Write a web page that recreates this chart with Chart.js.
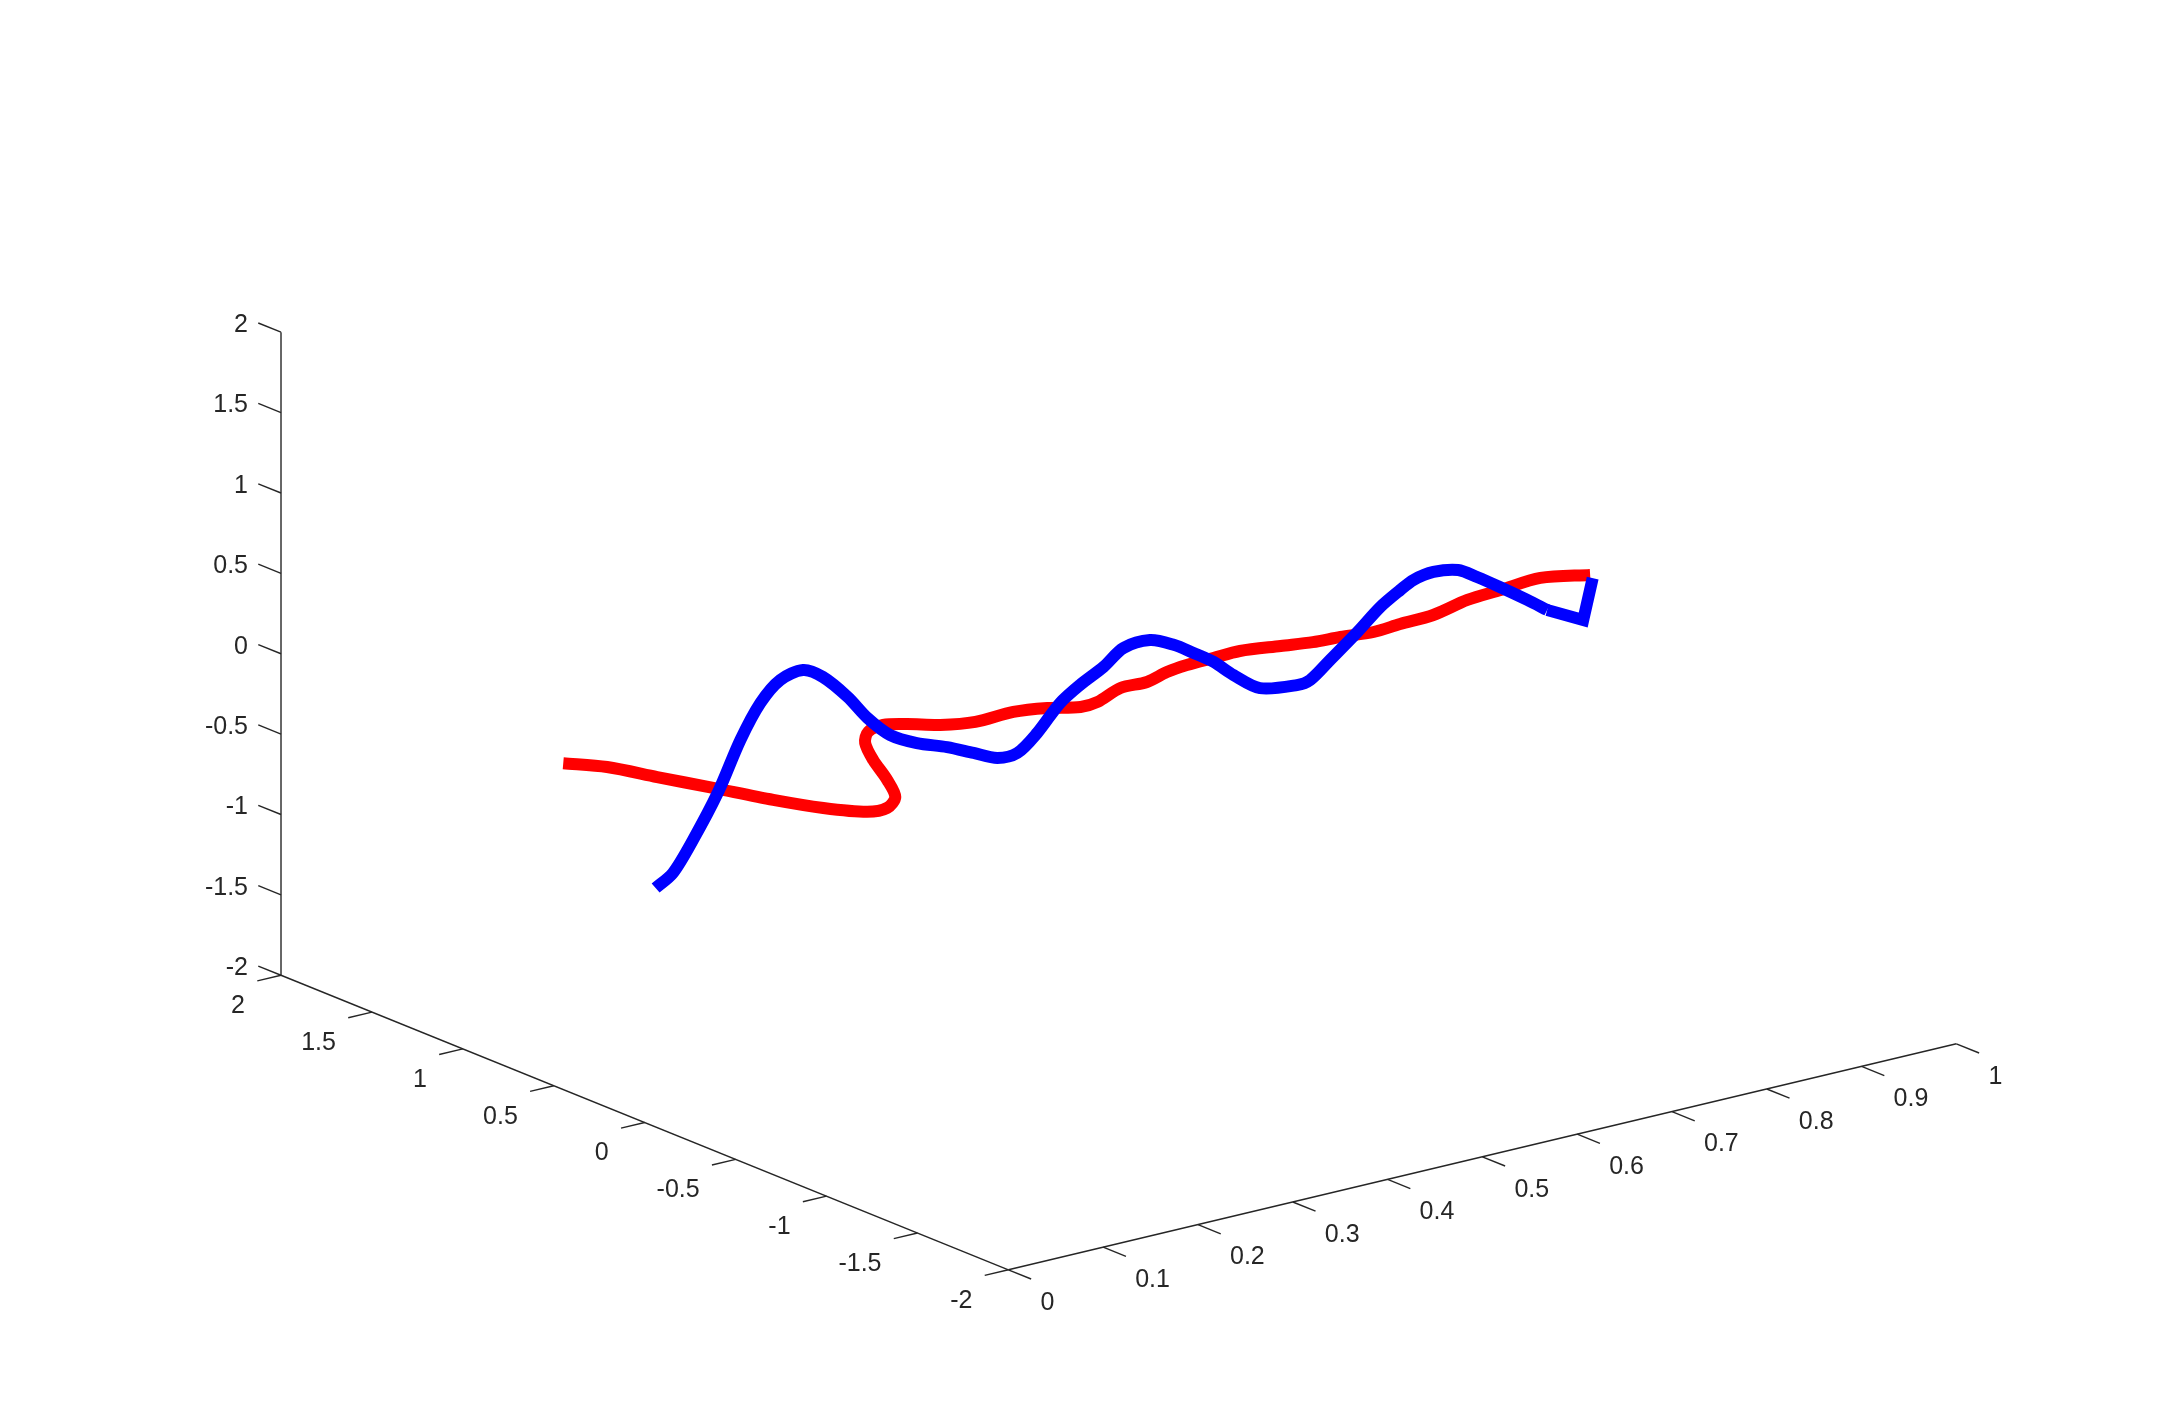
<!DOCTYPE html>
<html>
<head>
<meta charset="utf-8">
<script src="https://cdn.jsdelivr.net/npm/chart.js@4.4.1/dist/chart.umd.min.js"></script>
<style>
	html, body { margin: 0; padding: 0; background: #fff; }
	#wrap { width: 2160px; height: 1427px; }
</style>
</head>
<body>
<div id="wrap"><canvas id="plot3" width="2160" height="1427"></canvas></div>
<script>
const W = 2160;
const H = 1427;

// axis limits and ticks
const xLim = [0, 1];
const yLim = [-2, 2];
const zLim = [-2, 2];
const xTicks = [0, 0.1, 0.2, 0.3, 0.4, 0.5, 0.6, 0.7, 0.8, 0.9, 1];
const yTicks = [-2, -1.5, -1, -0.5, 0, 0.5, 1, 1.5, 2];
const zTicks = [-2, -1.5, -1, -0.5, 0, 0.5, 1, 1.5, 2];

// blue curve
const blueX = [0, 0.022, 0.047, 0.077, 0.101, 0.122, 0.143, 0.167, 0.188, 0.214,
	0.235, 0.259, 0.287, 0.319, 0.347, 0.372, 0.393, 0.414, 0.438, 0.459,
	0.484, 0.505, 0.533, 0.558, 0.579, 0.600, 0.621, 0.649, 0.688, 0.702,
	0.723, 0.752, 0.776, 0.797, 0.811, 0.832, 0.858, 0.878, 0.902, 0.931,
	0.952, 0.990, 1.0];
const blueY = [-0.06, -0.04, -0.02, 0, 0, 0, 0, 0, 0, 0,
	0, 0, 0, 0, 0, 0, 0, 0, 0, 0,
	0, 0, 0, 0, 0, 0, 0, 0, 0, 0,
	0, 0, 0, 0, 0, 0, 0, 0, 0, 0,
	0, 0, 0];
const blueZ = [-0.514, -0.461, -0.300, -0.058, 0.238, 0.438, 0.552, 0.580, 0.507, 0.347,
	0.186, 0.046, -0.043, -0.113, -0.189, -0.255, -0.254, -0.159, -0.007, 0.076,
	0.154, 0.242, 0.252, 0.187, 0.107, 0.022, -0.089, -0.210, -0.246, -0.234,
	-0.139, -0.005, 0.116, 0.192, 0.235, 0.255, 0.231, 0.159, 0.063, -0.058,
	-0.150, -0.266, -0.019];

// red curve
const redX = [0, 0.025, 0.055, 0.09, 0.125, 0.155, 0.18, 0.19, 0.197, 0.203,
	0.21, 0.217, 0.224, 0.24, 0.273, 0.308, 0.345, 0.385, 0.421, 0.456,
	0.474, 0.498, 0.526, 0.547, 0.568, 0.596, 0.624, 0.667, 0.701, 0.730,
	0.765, 0.793, 0.828, 0.864, 0.899, 0.941, 1.0];
const redY = [0.448, 0.337, 0.218, 0.093, -0.055, -0.174, -0.285, -0.343, -0.351, -0.275,
	-0.162, -0.081, -0.061, -0.06, -0.02, -0.02, -0.02, -0.02, -0.02, -0.02,
	-0.02, -0.02, -0.02, -0.02, -0.02, -0.02, -0.02, -0.02, -0.02, -0.02,
	-0.02, -0.02, -0.02, -0.02, -0.02, -0.02, 0.014];
const redZ = [0.03, 0.022, -0.028, -0.088, -0.144, -0.182, -0.19, -0.153, -0.091, -0.028,
	0.034, 0.093, 0.143, 0.163, 0.104, 0.049, 0.016, 0.022, -0.004, -0.047,
	-0.041, 0.012, 0.010, 0.042, 0.056, 0.061, 0.065, 0.036, 0.012, 0.003,
	-0.015, -0.005, 0.002, 0.045, 0.058, 0.074, -0.006];

// view (MATLAB default 3-D view) and how the plot box sits on the canvas
const AZ = -37.5 * Math.PI / 180;
const EL = 30 * Math.PI / 180;
const SCALE_U = 1194.9;
const SCALE_V = 742.5;
const CENTER = [1118.7, 688];
const AXIS_COLOR = "#262626";
const LINE_W = 12;
const LABEL_FONT = "25px 'Liberation Sans', Arial, sans-serif";

function norm(v, lim) {
	return (v - lim[0]) / (lim[1] - lim[0]) - 0.5;
}

function proj(x, y, z) {
	const nx = norm(x, xLim);
	const ny = norm(y, yLim);
	const nz = norm(z, zLim);
	return {
		x: nx * Math.cos(AZ) + ny * Math.sin(AZ),
		y: -nx * Math.sin(EL) * Math.sin(AZ) + ny * Math.sin(EL) * Math.cos(AZ) + nz * Math.cos(EL),
	};
}

function curve(xs, ys, zs, from = 0, to = xs.length) {
	const pts = [];
	for (let i = from; i < to; i++) {
		pts.push(proj(xs[i], ys[i], zs[i]));
	}
	return pts;
}

function line3(data, color, tension, join) {
	return {
		data,
		showLine: true,
		borderColor: color,
		borderWidth: LINE_W,
		borderCapStyle: "butt",
		borderJoinStyle: join,
		pointRadius: 0,
		tension,
	};
}

function segment(a, b) {
	return {
		data: [proj(...a), proj(...b)],
		showLine: true,
		borderColor: AXIS_COLOR,
		borderWidth: 1.4,
		pointRadius: 0,
		tension: 0,
	};
}

// the blue trace ends in a sharp hook, so its last two steps are drawn straight
const nb = blueX.length;
const datasets = [
	line3(curve(blueX, blueY, blueZ, nb - 3, nb), "#0000ff", 0, "miter"),
	line3(curve(blueX, blueY, blueZ, 0, nb - 2), "#0000ff", 0.3, "round"),
	line3(curve(redX, redY, redZ), "#ff0000", 0.3, "round"),
];

// axis lines
datasets.push(segment([0, yLim[1], zLim[0]], [0, yLim[1], zLim[1]]));
datasets.push(segment([0, yLim[1], zLim[0]], [0, yLim[0], zLim[0]]));
datasets.push(segment([0, yLim[0], zLim[0]], [1, yLim[0], zLim[0]]));

// tick marks
const TICK_Y = 0.125;
const TICK_X = 0.025;
for (const z of zTicks) {
	datasets.push(segment([0, yLim[1], z], [0, yLim[1] + TICK_Y, z]));
}
for (const y of yTicks) {
	datasets.push(segment([0, y, zLim[0]], [-TICK_X, y, zLim[0]]));
}
for (const x of xTicks) {
	datasets.push(segment([x, yLim[0], zLim[0]], [x, yLim[0] - TICK_Y, zLim[0]]));
}

const tickLabels = {
	id: "tickLabels",
	afterDatasetsDraw(chart) {
		const { ctx, scales } = chart;
		const px = (p) => [scales.x.getPixelForValue(p.x), scales.y.getPixelForValue(p.y)];
		ctx.save();
		ctx.font = LABEL_FONT;
		ctx.fillStyle = AXIS_COLOR;
		ctx.textBaseline = "middle";

		ctx.textAlign = "right";
		for (const z of zTicks) {
			const [u, v] = px(proj(0, yLim[1], z));
			ctx.fillText(String(z), u - 33, v - 7);
		}
		for (const y of yTicks) {
			const [u, v] = px(proj(0, y, zLim[0]));
			ctx.fillText(String(y), u - 36, v + 31);
		}

		ctx.textAlign = "left";
		for (const x of xTicks) {
			const [u, v] = px(proj(x, yLim[0], zLim[0]));
			ctx.fillText(String(x), u + 32, v + 33);
		}
		ctx.restore();
	},
};

new Chart(document.getElementById("plot3").getContext("2d"), {
	type: "scatter",
	data: { datasets },
	options: {
		responsive: false,
		animation: false,
		devicePixelRatio: 1,
		layout: { padding: 0 },
		scales: {
			x: {
				type: "linear",
				display: false,
				min: -CENTER[0] / SCALE_U,
				max: (W - CENTER[0]) / SCALE_U,
			},
			y: {
				type: "linear",
				display: false,
				min: -(H - CENTER[1]) / SCALE_V,
				max: CENTER[1] / SCALE_V,
			},
		},
		plugins: {
			legend: { display: false },
			tooltip: { enabled: false },
		},
	},
	plugins: [tickLabels],
});
</script>
</body>
</html>
